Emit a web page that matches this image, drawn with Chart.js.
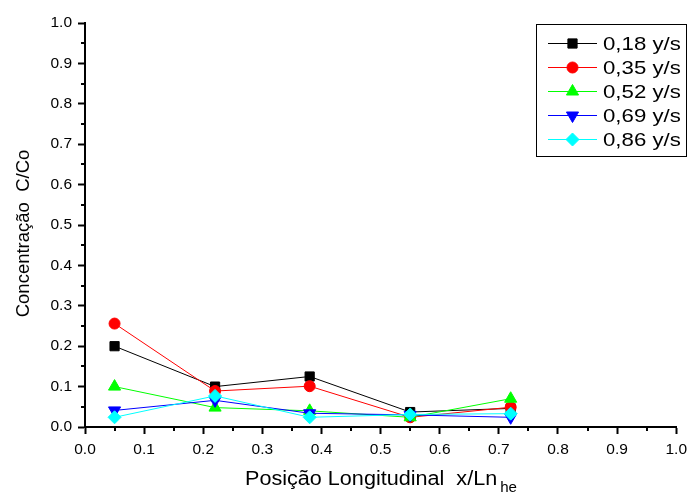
<!DOCTYPE html>
<html>
<head>
<meta charset="utf-8">
<script src="https://cdn.jsdelivr.net/npm/chart.js@4.4.0/dist/chart.umd.min.js"></script>
<style>
  html, body { margin: 0; padding: 0; background: #fff; }
  canvas { display: block; }
</style>
</head>
<body>
<canvas id="c" width="693" height="495"></canvas>
<script>
// ---- data ----
const positions = [0.05, 0.22, 0.38, 0.55, 0.72];
const seriesLabels = ['0,18 y/s', '0,35 y/s', '0,52 y/s', '0,69 y/s', '0,86 y/s'];
const v018 = [0.200, 0.100, 0.125, 0.037, 0.046];
const v035 = [0.256, 0.089, 0.101, 0.024, 0.049];
const v052 = [0.100, 0.048, 0.040, 0.024, 0.070];
const v069 = [0.041, 0.066, 0.034, 0.030, 0.024];
const v086 = [0.024, 0.077, 0.024, 0.031, 0.033];
const xTicks = [0.0, 0.1, 0.2, 0.3, 0.4, 0.5, 0.6, 0.7, 0.8, 0.9, 1.0];
const yTicks = [0.0, 0.1, 0.2, 0.3, 0.4, 0.5, 0.6, 0.7, 0.8, 0.9, 1.0];
const xTitle = 'Posição Longitudinal  x/Ln';
const xTitleSub = 'he';
const yTitle = 'Concentração  C/Co';

const FONT = "'Liberation Sans', Arial, sans-serif";

const styles = [
  { color: '#000000', pointStyle: 'rect', radius: 6.5, rotation: 0 },
  { color: '#ff0000', pointStyle: 'circle', radius: 5.5, rotation: 0 },
  { color: '#00ff00', pointStyle: 'triangle', radius: 7, rotation: 0 },
  { color: '#0000ff', pointStyle: 'triangle', radius: 7, rotation: 180 },
  { color: '#00ffff', pointStyle: 'rectRot', radius: 6.5, rotation: 0 }
];
const allValues = [v018, v035, v052, v069, v086];

const datasets = allValues.map((vals, i) => ({
  label: seriesLabels[i],
  data: positions.map((x, j) => ({ x: x, y: vals[j] })),
  borderColor: styles[i].color,
  backgroundColor: styles[i].color,
  pointBackgroundColor: styles[i].color,
  pointBorderColor: styles[i].color,
  pointBorderWidth: 1,
  pointStyle: styles[i].pointStyle,
  pointRadius: styles[i].radius,
  pointRotation: styles[i].rotation,
  borderWidth: 1,
  tension: 0,
  order: allValues.length - 1 - i
}));

function drawMarker(ctx, st, x, y) {
  ctx.save();
  ctx.fillStyle = st.color;
  ctx.strokeStyle = st.color;
  ctx.lineWidth = 1;
  if (Chart.helpers && Chart.helpers.drawPoint) {
    Chart.helpers.drawPoint(ctx, { pointStyle: st.pointStyle, rotation: st.rotation, radius: st.radius, borderWidth: 1 }, x, y);
  }
  ctx.restore();
}

function wideText(ctx, text, x, y, sx) {
  ctx.save();
  ctx.translate(x, y);
  ctx.scale(sx, 1);
  ctx.fillText(text, 0, 0);
  ctx.restore();
}

const extras = {
  id: 'extras',
  afterDraw(chart) {
    const ctx = chart.ctx;
    const xs = chart.scales.x, ys = chart.scales.y;
    ctx.save();
    // minor ticks
    ctx.strokeStyle = '#000';
    ctx.lineWidth = 2;
    ctx.beginPath();
    for (let k = 0; k < xTicks.length - 1; k++) {
      const v = (xTicks[k] + xTicks[k + 1]) / 2;
      const px = Math.round(xs.getPixelForValue(v));
      ctx.moveTo(px, xs.top);
      ctx.lineTo(px, xs.top + 4);
    }
    for (let k = 0; k < yTicks.length - 1; k++) {
      const v = (yTicks[k] + yTicks[k + 1]) / 2;
      const py = Math.round(ys.getPixelForValue(v));
      ctx.moveTo(ys.right, py);
      ctx.lineTo(ys.right - 4, py);
    }
    ctx.stroke();

    // x title with subscript
    const sxT = 1.08;
    ctx.fillStyle = '#000';
    ctx.textAlign = 'left';
    ctx.textBaseline = 'alphabetic';
    ctx.font = '20px ' + FONT;
    const mainW = ctx.measureText(xTitle).width * sxT;
    const startX = 245;
    wideText(ctx, xTitle, startX, 485, sxT);
    ctx.font = '14px ' + FONT;
    wideText(ctx, xTitleSub, startX + mainW + 3, 491.5, sxT);

    // y title
    ctx.save();
    ctx.translate(28.5, 233.5);
    ctx.rotate(-Math.PI / 2);
    ctx.font = '18.5px ' + FONT;
    ctx.textAlign = 'center';
    ctx.fillText(yTitle, 0, 0);
    ctx.restore();

    // legend
    const lx = 536.5, ly = 24.5, lw = 150, lh = 132;
    ctx.fillStyle = '#fff';
    ctx.fillRect(lx, ly, lw, lh);
    ctx.strokeStyle = '#000';
    ctx.lineWidth = 1;
    ctx.strokeRect(lx, ly, lw, lh);
    for (let i = 0; i < seriesLabels.length; i++) {
      const ry = 43.5 + 24 * i;
      const st = styles[i];
      ctx.strokeStyle = st.color;
      ctx.lineWidth = 1;
      ctx.beginPath();
      ctx.moveTo(548, ry);
      ctx.lineTo(597, ry);
      ctx.stroke();
      drawMarker(ctx, st, 572.5, ry);
      ctx.fillStyle = '#000';
      ctx.font = '19px ' + FONT;
      ctx.textAlign = 'left';
      ctx.textBaseline = 'middle';
      wideText(ctx, seriesLabels[i], 603, ry + 1, 1.17);
    }
    ctx.restore();
  }
};

new Chart(document.getElementById('c'), {
  type: 'line',
  data: { datasets: datasets },
  options: {
    responsive: false,
    animation: false,
    devicePixelRatio: 1,
    layout: { padding: { top: 23, right: 16, left: 0, bottom: 0 } },
    plugins: { legend: { display: false }, tooltip: { enabled: false }, title: { display: false } },
    scales: {
      x: {
        type: 'linear',
        min: 0, max: 1,
        afterFit(s) { s.height = 68; },
        afterBuildTicks(s) { s.ticks = xTicks.map(v => ({ value: v })); },
        ticks: {
          color: '#000',
          font: { family: FONT, size: 15.5 },
          padding: 6,
          maxRotation: 0,
          autoSkip: false,
          callback: v => Number(v).toFixed(1)
        },
        grid: { display: true, drawOnChartArea: false, drawTicks: true, tickLength: 7, tickWidth: 2, tickColor: '#000', color: '#000' },
        border: { display: true, color: '#000', width: 2 },
        title: { display: false }
      },
      y: {
        type: 'linear',
        min: 0, max: 1,
        afterFit(s) { s.width = 85; },
        afterBuildTicks(s) { s.ticks = yTicks.map(v => ({ value: v })); },
        ticks: {
          color: '#000',
          font: { family: FONT, size: 15.5 },
          padding: 6,
          autoSkip: false,
          callback: v => Number(v).toFixed(1)
        },
        grid: { display: true, drawOnChartArea: false, drawTicks: true, tickLength: 7, tickWidth: 2, tickColor: '#000', color: '#000' },
        border: { display: true, color: '#000', width: 2 },
        title: { display: false }
      }
    }
  },
  plugins: [extras]
});
</script>
</body>
</html>
